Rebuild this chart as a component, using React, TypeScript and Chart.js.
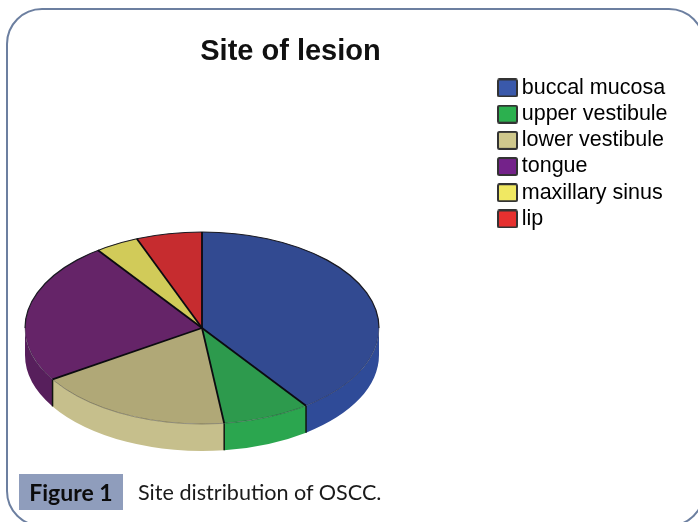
import React, { useEffect, useRef } from "react";
import { Chart, registerables } from "chart.js";

Chart.register(...registerables);

const categories = ["buccal mucosa", "upper vestibule", "lower vestibule", "tongue", "maxillary sinus", "lip"];
const sharePercent = [40, 8, 18, 24, 4, 6];
const topColors = ["#324a91", "#2d9a4d", "#b0a877", "#652468", "#d1cb59", "#c62c2f"];
const sideColors = ["#2f4b98", "#2ba64f", "#c6bf8c", "#571f5c", "#c4be50", "#b02629"];
const legendColors = ["#3a59ab", "#2cb04f", "#cfc88c", "#74228a", "#f0e862", "#e6302f"];

const titleText = "Site of lesion";
const figureLabel = "Figure 1";
const captionText = "Site distribution of OSCC.";

const Y_SCALE = 96 / 177;
const DEPTH = 27;
const TITLE_LEFT = 200;
const TITLE_RIGHT = 381;
const LEGEND_LEFT = 499.3;
const LEGEND_TOP = 72.5;

function makeSwatch(color: string) {
  const c = document.createElement("canvas");
  c.width = 21;
  c.height = 19;
  const g = c.getContext("2d")!;
  g.fillStyle = color;
  g.strokeStyle = "#333333";
  g.lineWidth = 2;
  g.beginPath();
  g.roundRect(1, 1, 19, 17, 1.5);
  g.fill();
  g.stroke();
  return c;
}

const pie3d = {
  id: "pie3d",
  afterLayout(chart: any) {
    const legend = chart.legend;
    chart.titleBlock.left = TITLE_LEFT;
    chart.titleBlock.right = TITLE_RIGHT;
    legend.left = LEGEND_LEFT;
    legend.right = LEGEND_LEFT + legend.width;
    legend.top = LEGEND_TOP;
    legend.bottom = LEGEND_TOP + legend.height;
    // the swatches reach slightly past the legend box, so draw it unclipped
    legend.draw = () => legend._draw();
  },
  beforeDatasetDraw(chart: any) {
    const { ctx } = chart;
    const arcs = chart.getDatasetMeta(0).data;
    const { x: cx, y: cy, outerRadius: rx } = arcs[0].getProps(["x", "y", "outerRadius"], true);
    const ry = rx * Y_SCALE;
    // side wall of every slice that faces the viewer
    arcs.forEach((arc: any, i: number) => {
      const { startAngle, endAngle } = arc.getProps(["startAngle", "endAngle"], true);
      const a0 = Math.max(startAngle, 0);
      const a1 = Math.min(endAngle, Math.PI);
      if (a1 <= a0) return;
      ctx.beginPath();
      ctx.ellipse(cx, cy, rx, ry, 0, a0, a1);
      ctx.lineTo(cx + rx * Math.cos(a1), cy + ry * Math.sin(a1) + DEPTH);
      ctx.ellipse(cx, cy + DEPTH, rx, ry, 0, a1, a0, true);
      ctx.closePath();
      ctx.fillStyle = sideColors[i];
      ctx.fill();
    });
    // vertical seams between the walls
    ctx.strokeStyle = "#10150f";
    ctx.lineWidth = 1.5;
    arcs.forEach((arc: any) => {
      const { startAngle: a } = arc.getProps(["startAngle"], true);
      if (a > 0 && a < Math.PI) {
        ctx.beginPath();
        ctx.moveTo(cx + rx * Math.cos(a), cy + ry * Math.sin(a));
        ctx.lineTo(cx + rx * Math.cos(a), cy + ry * Math.sin(a) + DEPTH);
        ctx.stroke();
      }
    });
    // squash the round pie into the tilted top face
    ctx.save();
    ctx.translate(cx, cy);
    ctx.scale(1, Y_SCALE);
    ctx.translate(-cx, -cy);
  },
  afterDatasetDraw(chart: any) {
    const { ctx } = chart;
    ctx.restore();
    const arcs = chart.getDatasetMeta(0).data;
    const { x: cx, y: cy, outerRadius: rx } = arcs[0].getProps(["x", "y", "outerRadius"], true);
    const ry = rx * Y_SCALE;
    // faint rim at the front, thin dark edge at the back
    ctx.strokeStyle = "rgba(30,30,40,0.35)";
    ctx.lineWidth = 1;
    ctx.beginPath();
    ctx.ellipse(cx, cy, rx, ry, 0, 0, Math.PI);
    ctx.stroke();
    ctx.strokeStyle = "#1a1a22";
    ctx.lineWidth = 1.2;
    ctx.beginPath();
    ctx.ellipse(cx, cy, rx, ry, 0, Math.PI, Math.PI * 2);
    ctx.stroke();
    // radial slice borders
    ctx.strokeStyle = "#0b0b10";
    ctx.lineWidth = 1.8;
    arcs.forEach((arc: any) => {
      const { startAngle: a } = arc.getProps(["startAngle"], true);
      ctx.beginPath();
      ctx.moveTo(cx, cy);
      ctx.lineTo(cx + rx * Math.cos(a), cy + ry * Math.sin(a));
      ctx.stroke();
    });
  },
};

export default function App() {
  const ref = useRef<HTMLCanvasElement>(null);

  useEffect(() => {
    document.body.style.margin = "0";
    document.body.style.overflow = "hidden";
    const swatches = legendColors.map(makeSwatch);
    const chart = new Chart(ref.current!, {
      type: "pie",
      data: {
        labels: categories,
        datasets: [{ data: sharePercent, backgroundColor: topColors, borderWidth: 0 }],
      },
      plugins: [pie3d],
      options: {
        animation: false,
        responsive: false,
        layout: { padding: { left: 25, right: 319, top: 0, bottom: 17 } },
        plugins: {
          tooltip: { enabled: false },
          title: {
            display: true,
            text: titleText,
            color: "#111111",
            font: { family: "'Liberation Sans', Arial, sans-serif", size: 29, weight: "bold" },
            padding: { top: 34.6, bottom: 81.6 },
          },
          legend: {
            position: "chartArea",
            align: "start",
            labels: {
              color: "#111111",
              font: { family: "'Liberation Sans', Arial, sans-serif", size: 21.5 },
              boxWidth: 7,
              boxHeight: 7,
              padding: 4.7,
              usePointStyle: true,
              generateLabels: () =>
                categories.map((text, index) => ({
                  text,
                  index,
                  datasetIndex: 0,
                  fillStyle: legendColors[index],
                  strokeStyle: "#333333",
                  lineWidth: 0,
                  pointStyle: swatches[index],
                  hidden: false,
                })),
            },
          },
        },
      } as any,
    });
    return () => chart.destroy();
  }, []);

  return (
    <div style={{ position: "absolute", left: 0, top: 0, width: 698, height: 522, overflow: "hidden", background: "#fff" }}>
      <canvas ref={ref} width={698} height={522} style={{ display: "block", filter: "blur(0.4px)" }} />
      <div
        style={{
          position: "absolute",
          left: 6,
          top: 8,
          width: 699,
          height: 519,
          boxSizing: "border-box",
          border: "2px solid #6c7fa0",
          borderRadius: 36,
        }}
      />
      <div
        style={{
          position: "absolute",
          left: 19,
          top: 474,
          width: 104,
          height: 36,
          background: "#8f9dbc",
          color: "#0c0c0c",
          font: "bold 23px Lato, sans-serif",
          lineHeight: "36px",
          textAlign: "center",
        }}
      >
        {figureLabel}
      </div>
      <div
        style={{
          position: "absolute",
          left: 138,
          top: 474,
          height: 36,
          color: "#1a1a1a",
          font: "21.6px Lato, sans-serif",
          lineHeight: "36px",
          whiteSpace: "nowrap",
        }}
      >
        {captionText}
      </div>
    </div>
  );
}
